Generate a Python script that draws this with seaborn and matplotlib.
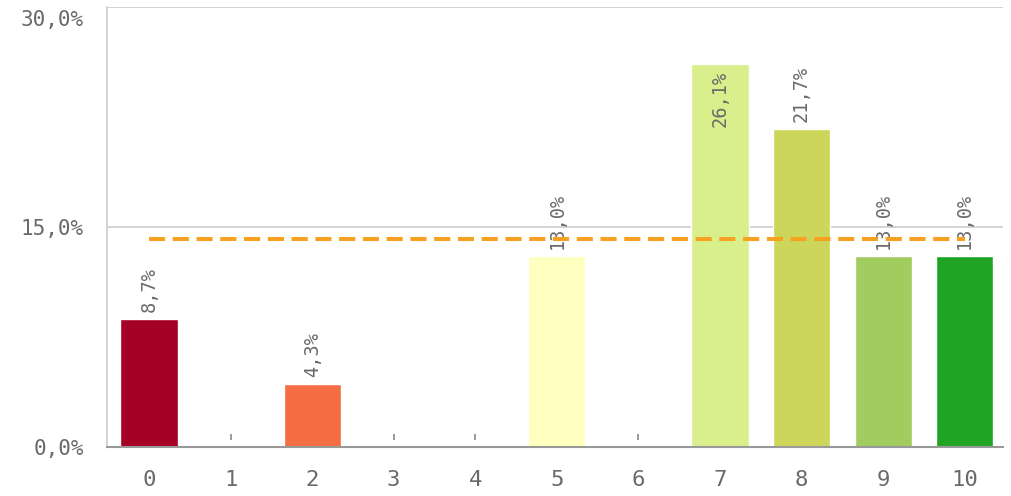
import numpy as np
import pandas as pd
import seaborn as sns
import matplotlib

matplotlib.use('Agg')
import matplotlib.pyplot as plt
from matplotlib.transforms import ScaledTranslation

# puanlar ve yüzdeleri
scores = ['0', '1', '2', '3', '4', '5', '6', '7', '8', '9', '10']
shares = [8.7, 0, 4.3, 0, 0, 13.0, 0, 26.1, 21.7, 13.0, 13.0]
bar_colors = ['#a50026', '#d73027', '#f46d43', '#fdae61', '#fee08b', '#ffffbf',
              '#e6f598', '#d9ef8b', '#cdd65a', '#a1cd5f', '#1fa424']
avg_line = 14.2
y_ticks = [0, 15, 30]

df = pd.DataFrame({'score': scores, 'share': shares})

sns.set_style('white')
plt.rcParams['font.family'] = ['DejaVu Sans Mono', 'DejaVu Sans']
text_col = '#6a6a6a'

fig = plt.figure(figsize=(10.11, 4.96), dpi=100)
ax = fig.add_axes([107 / 1011, 49 / 496, 896 / 1011, 440 / 496])

sns.barplot(data=df, x='score', y='share', hue='score', palette=bar_colors,
            legend=False, width=0.7, saturation=1, ax=ax, order=scores)

ax.set_ylim(0, 30)
ax.set_xlim(-0.515, 10.47)

# grid lines
for t in y_ticks[1:]:
    ax.axhline(t, color='#cccccc', lw=1.2, zorder=0)

# sıfır olan çubuklar için küçük işaret
for i, v in enumerate(shares):
    if v == 0:
        ax.vlines(i, 0.5, 0.9, color='#888888', lw=1.2)

# değer etiketleri
for i, v in enumerate(shares):
    if v == 0:
        continue
    lab = f'{v:.1f}%'.replace('.', ',')
    if v > 24:
        ax.annotate(lab, (i, v), xytext=(0, -5), textcoords='offset points',
                    rotation=90, ha='center', va='top', fontsize=13.4, color=text_col)
    else:
        ax.annotate(lab, (i, v), xytext=(0, 5), textcoords='offset points',
                    rotation=90, ha='center', va='bottom', fontsize=13.4, color=text_col)

# ortalama çizgisi
ax.hlines(avg_line, 0, len(scores) - 1, color='#f7a021', lw=2.9,
          linestyles=(0, (4.0, 1.9)), zorder=5)

ax.set_yticks(y_ticks)
ax.set_yticklabels([f'{t:.1f}%'.replace('.', ',') for t in y_ticks])
ax.tick_params(axis='y', length=11.5, color='#cccccc', width=1.2, pad=5,
               labelsize=15, labelcolor=text_col)
ax.tick_params(axis='x', length=0, pad=16.5, labelsize=16, labelcolor=text_col)
ax.set_xlabel('')
ax.set_ylabel('')

# en üstteki etiket kesilmesin diye aşağı kaydır
top_lab = ax.get_yticklabels()[-1]
top_lab.set_va('top')
top_lab.set_transform(top_lab.get_transform() + ScaledTranslation(0, -3 / 100, fig.dpi_scale_trans))

for s in ['top', 'right']:
    ax.spines[s].set_visible(False)
ax.spines['left'].set_color('#cccccc')
ax.spines['left'].set_linewidth(1.2)
ax.spines['bottom'].set_color('#999999')
ax.spines['bottom'].set_linewidth(1.5)

fig.savefig('out.png', dpi=100)
